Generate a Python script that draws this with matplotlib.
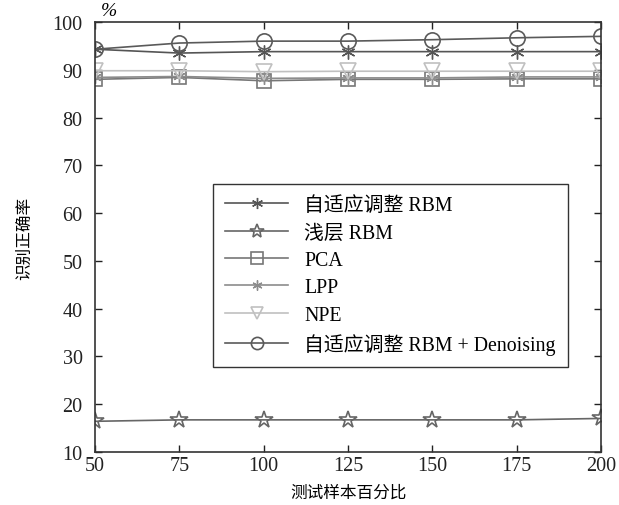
import matplotlib
matplotlib.use("Agg")
import matplotlib.pyplot as plt

plt.rcParams['font.family'] = ['Liberation Serif', 'Noto Sans CJK SC']
plt.rcParams['mathtext.fontset'] = 'stix'

x = [50, 75, 100, 125, 150, 175, 200]
adaptive_rbm = [94.3, 93.5, 93.8, 93.8, 93.8, 93.8, 93.8]
shallow_rbm = [16.4, 16.7, 16.7, 16.7, 16.7, 16.7, 17.0]
pca = [88.0, 88.4, 87.7, 88.0, 88.0, 88.1, 88.1]
lpp = [88.4, 88.6, 88.2, 88.3, 88.3, 88.5, 88.5]
npe = [89.8, 89.8, 89.6, 89.7, 89.7, 89.7, 89.7]
adaptive_denoise = [94.3, 95.6, 96.0, 96.0, 96.3, 96.7, 97.0]

labels = ["自适应调整 RBM", "浅层 RBM", "PCA", "LPP", "NPE", "自适应调整 RBM + Denoising"]
xticks = [50, 75, 100, 125, 150, 175, 200]
yticks = [10, 20, 30, 40, 50, 60, 70, 80, 90, 100]

fig = plt.figure(figsize=(6.19, 5.06), dpi=100)
ax = fig.add_axes([0.1535, 0.105, 0.8175, 0.8495])

ast = (6, 2, 0)
ax.plot(x, adaptive_rbm, color='#555555', lw=1.2, marker=ast, ms=10, mew=1.0, label=labels[0])
ax.plot(x, shallow_rbm, color='#666666', lw=1.2, marker='*', ms=13, mfc='none', mew=1.2, label=labels[1])
ax.plot(x, pca, color='#777777', lw=1.2, marker='s', ms=10, mfc='none', mew=1.2, label=labels[2])
ax.plot(x, lpp, color='#8c8c8c', lw=1.2, marker=ast, ms=9, mew=1.0, label=labels[3])
ax.plot(x, npe, color='#c0c0c0', lw=1.2, marker='v', ms=11, mfc='none', mew=1.2, label=labels[4])
ax.plot(x, adaptive_denoise, color='#5a5a5a', lw=1.2, marker='o', ms=11, mfc='none', mew=1.2, label=labels[5])

ax.set_xlim(50, 200)
ax.set_ylim(10, 100)
ax.set_xticks(xticks)
ax.set_yticks(yticks)
ax.tick_params(direction='in', length=5, width=1, labelsize=14.5, top=True, right=True, colors='#222222')
ax.tick_params(axis='y', pad=9)
ax.tick_params(axis='x', pad=3)
for s in ax.spines.values():
    s.set_color('#333333')
    s.set_linewidth(1.2)

ax.set_xlabel("测试样本百分比", fontsize=12, labelpad=7)
ax.set_ylabel("识别正确率", fontsize=12, labelpad=14)
ax.text(0.012, 1.008, "%", transform=ax.transAxes, fontsize=14, style='italic', ha='left', va='bottom')

leg = ax.legend(loc='lower left', bbox_to_anchor=(0.233, 0.198), borderaxespad=0, fontsize=14.3,
                fancybox=False, framealpha=1, edgecolor='#333333', handlelength=3.2, borderpad=0.6,
                labelspacing=0.42, handletextpad=0.8, markerscale=0.8)
leg.get_frame().set_linewidth(1.0)

fig.savefig("out.png", dpi=100)
